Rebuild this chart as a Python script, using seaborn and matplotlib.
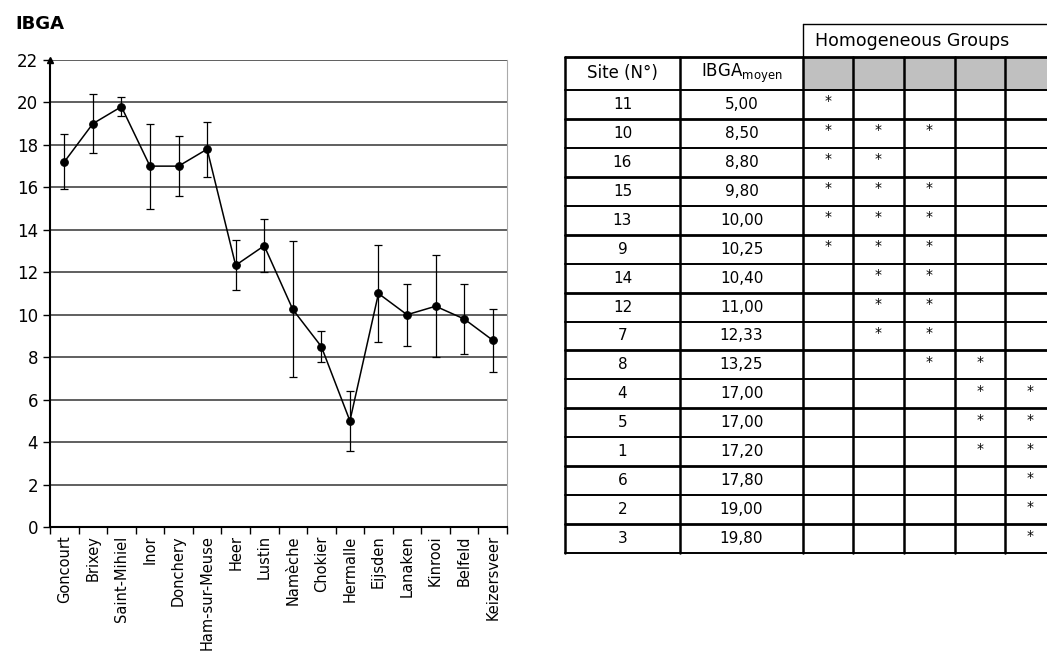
import numpy as np
import pandas as pd
import seaborn as sns
import matplotlib.pyplot as plt

sites = ['Goncourt', 'Brixey', 'Saint-Mihiel', 'Inor', 'Donchery', 'Ham-sur-Meuse',
         'Heer', 'Lustin', 'Namèche', 'Chokier', 'Hermalle', 'Eijsden', 'Lanaken',
         'Kinrooi', 'Belfeld', 'Keizersveer']
ibga = [17.2, 19.0, 19.8, 17.0, 17.0, 17.8, 12.33, 13.25, 10.25, 8.5, 5.0, 11.0,
        10.0, 10.4, 9.8, 8.8]
err = [1.3, 1.4, 0.45, 2.0, 1.4, 1.3, 1.17, 1.26, 3.2, 0.72, 1.4, 2.3, 1.45, 2.4, 1.64, 1.48]

# table (sorted by mean)
tab_site = ['11', '10', '16', '15', '13', '9', '14', '12', '7', '8', '4', '5', '1', '6', '2', '3']
tab_mean = ['5,00', '8,50', '8,80', '9,80', '10,00', '10,25', '10,40', '11,00', '12,33',
            '13,25', '17,00', '17,00', '17,20', '17,80', '19,00', '19,80']
groups = [[0], [0, 1, 2], [0, 1], [0, 1, 2], [0, 1, 2], [0, 1, 2], [1, 2], [1, 2], [1, 2],
          [2, 3], [3, 4], [3, 4], [3, 4], [4], [4], [4]]

df = pd.DataFrame({'site': sites, 'ibga': ibga, 'err': err})
df['pos'] = np.arange(len(df))

sns.set_style('white')
plt.rcParams['font.family'] = ['DejaVu Sans']
plt.rcParams['text.color'] = 'black'
plt.rcParams['xtick.color'] = 'black'
plt.rcParams['ytick.color'] = 'black'

fig = plt.figure(figsize=(10.47, 6.67), dpi=100)
W, H = 1047, 667
ax = fig.add_axes([50 / W, 1 - 527 / H, 457 / W, 467 / H])

sns.lineplot(data=df, x='pos', y='ibga', color='black', marker='o', markersize=5.5,
             markeredgecolor='black', linewidth=1.1, ax=ax)
ax.errorbar(df['pos'], df['ibga'], yerr=df['err'], fmt='none', ecolor='black',
            elinewidth=0.9, capsize=3, capthick=0.9)

ax.set_xlim(-0.5, len(sites) - 0.5)
ax.set_ylim(0, 22)
ax.set_yticks(np.arange(0, 23, 2))
ax.yaxis.grid(True, color='#444444', linewidth=1.2)
ax.set_axisbelow(True)
ax.set_xticks(df['pos'])
ax.set_xticklabels(sites, rotation=90, fontsize=10.5)
ax.set_xticks(np.arange(-0.5, len(sites)), minor=True)
ax.tick_params(axis='x', which='both', bottom=True)
ax.tick_params(axis='y', which='both', left=True)
ax.tick_params(axis='x', which='major', length=0, pad=6)
ax.tick_params(axis='x', which='minor', length=5, direction='out', color='black', width=1)
ax.tick_params(axis='y', length=5, direction='out', color='black', width=1, labelsize=12)
ax.set_xlabel('')
ax.set_ylabel('')
for s in ['left', 'bottom']:
    ax.spines[s].set_color('black')
    ax.spines[s].set_linewidth(1.5)
ax.spines['top'].set_visible(False)
ax.spines['right'].set_color('#aaaaaa')
ax.plot(-0.5, 22, marker='^', color='black', markersize=5, clip_on=False, transform=ax.transData)

fig.text(15 / W, 1 - 24 / H, 'IBGA', fontsize=13, fontweight='bold', va='center')

# table drawn in pixel coordinates
tx = fig.add_axes([0, 0, 1, 1])
tx.set_xlim(0, W)
tx.set_ylim(H, 0)
tx.axis('off')

cols = [565, 680, 803, 853, 904, 955, 1005, 1056]
top_hdr, row0, row1 = 24, 57, 90
rh = (553 - row1) / len(tab_site)
rows = [row0, row1] + [row1 + rh * (i + 1) for i in range(len(tab_site))]

for c in range(2, 7):
    tx.add_patch(plt.Rectangle((cols[c], row0), cols[c + 1] - cols[c], row1 - row0,
                               facecolor='#c0c0c0', edgecolor='none'))
for i, y in enumerate(rows):
    tx.plot([cols[0], W], [y, y], color='black', lw=2 if i % 2 == 0 else 1.4)
for x in cols:
    tx.plot([x, x], [row0, rows[-1]], color='black', lw=1.8)
tx.plot([cols[2], W], [top_hdr, top_hdr], color='black', lw=1)
tx.plot([cols[2], cols[2]], [top_hdr, row0], color='black', lw=1)
tx.text(cols[2] + 12, (top_hdr + row0) / 2, 'Homogeneous Groups', fontsize=12.5,
        va='center', ha='left')
tx.text((cols[0] + cols[1]) / 2, (row0 + row1) / 2, 'Site (N°)', fontsize=12,
        ha='center', va='center')
tx.text((cols[1] + cols[2]) / 2, (row0 + row1) / 2, 'IBGA$_{\\mathrm{moyen}}$', fontsize=12,
        ha='center', va='center')

for i, (s, m, g) in enumerate(zip(tab_site, tab_mean, groups)):
    yc = (rows[i + 1] + rows[i + 2]) / 2
    tx.text((cols[0] + cols[1]) / 2, yc, s, fontsize=11, ha='center', va='center')
    tx.text((cols[1] + cols[2]) / 2, yc, m, fontsize=11, ha='center', va='center')
    for k in g:
        tx.text((cols[2 + k] + cols[3 + k]) / 2, yc - 3, '*', fontsize=10,
                ha='center', va='center')

fig.savefig('out.png', dpi=100)
